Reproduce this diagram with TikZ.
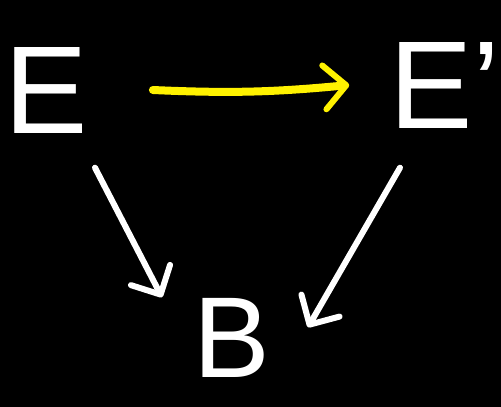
\documentclass[tikz,border=0pt]{standalone}
\usepackage{fontspec}
\setmainfont{Liberation Sans}
\usetikzlibrary{arrows.meta}
\begin{document}
\begin{tikzpicture}[x=1pt,y=-1pt,
  letter/.style={text=white,font=\fontsize{125}{125}\selectfont,inner sep=0pt},
  arr/.style={line width=6pt, line cap=round, line join=round,
    -{Straight Barb[length=22pt,width=44pt,line width=6pt,round]}}]
\fill[black] (0,0) rectangle (501,407);
\useasboundingbox (0,0) rectangle (501,407);
\node[letter] (E) at (46,90) {E};
\node[letter] (Ep) at (445,85) {E'};
\node[letter, font=\fontsize{115}{115}\selectfont] (B) at (232,338) {B};
\draw[arr, yellow, line width=8pt] ([xshift=65pt]E.east) to[bend right=4] ([xshift=-40pt]Ep.west);
\draw[arr, white] ([xshift=49pt,yshift=-34.5pt]E.south) -- ([xshift=-70pt,yshift=1pt]B.north);
\draw[arr, white] ([xshift=-45pt,yshift=-39.5pt]Ep.south) -- ([xshift=76pt,yshift=-29pt]B.north);
\end{tikzpicture}
\end{document}
